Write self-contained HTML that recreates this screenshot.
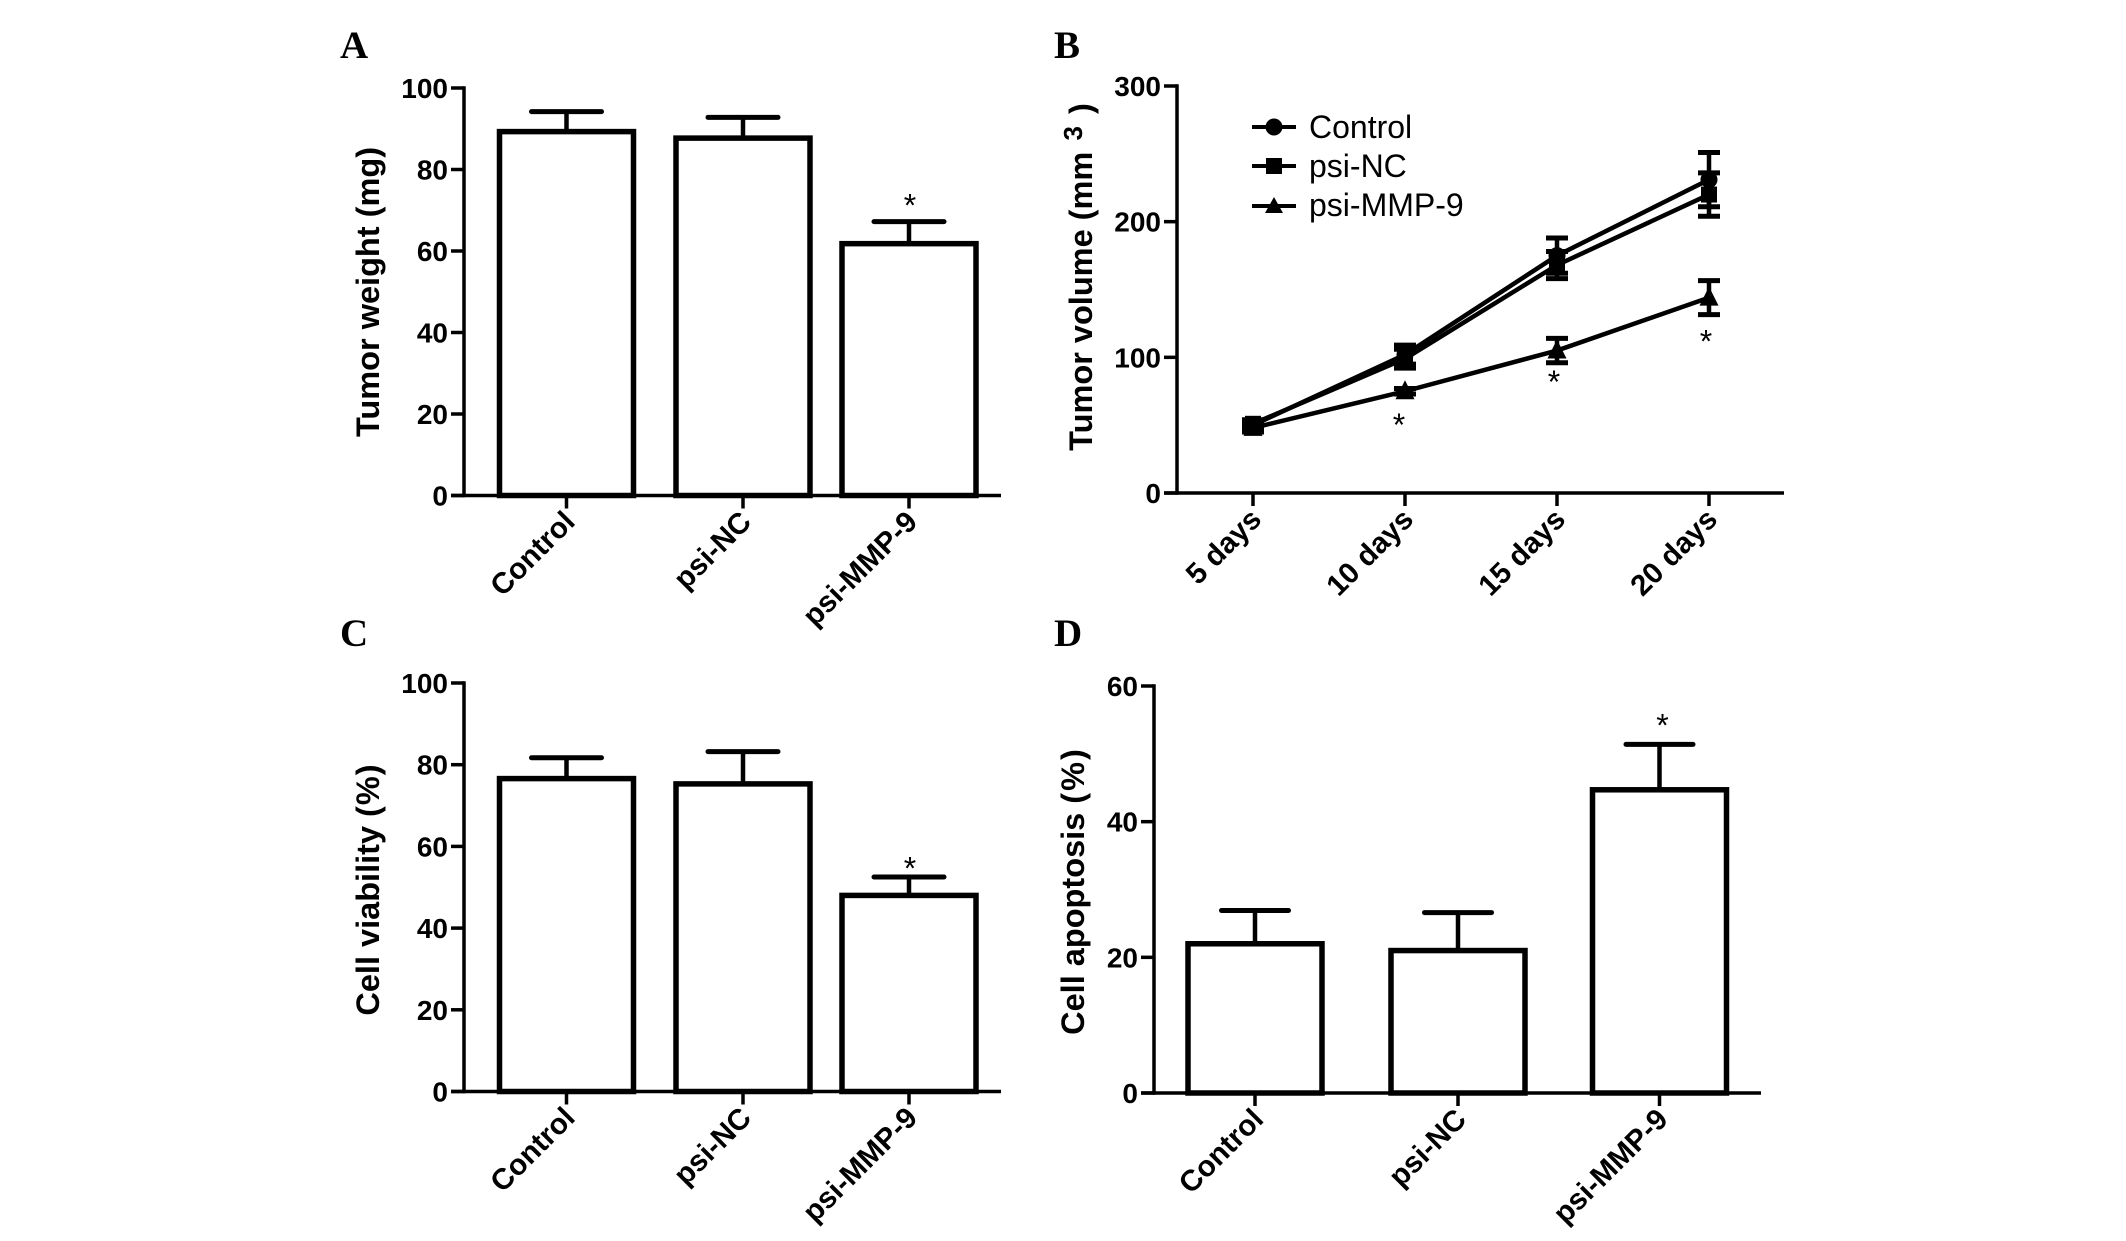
<!DOCTYPE html>
<html lang="en">
<head>
<meta charset="utf-8">
<title>Tumor and cell assays, four-panel figure</title>
<style>
html,body{margin:0;padding:0;background:#fff;}
svg{display:block;}
text{font-family:"Liberation Sans",sans-serif;fill:#000;}
.tick{font-weight:bold;font-size:28px;}
.xtick{font-weight:bold;font-size:29.5px;}
.title{font-weight:bold;font-size:32.5px;}
.letter{font-family:"Liberation Serif",serif;font-weight:bold;font-size:39px;}
.legend{font-size:32px;}
.star{font-size:32px;}
</style>
</head>
<body>
<svg id="figure" width="2126" height="1241" viewBox="0 0 2126 1241" xmlns="http://www.w3.org/2000/svg">
  <rect width="2126" height="1241" fill="#fff"/>
  <text class="letter" x="340" y="58">A</text>
  <text class="letter" x="1054" y="58">B</text>
  <text class="letter" x="340" y="646">C</text>
  <text class="letter" x="1054" y="646">D</text>
  <text class="title" text-anchor="middle" transform="translate(379,292) rotate(-90)">Tumor weight (mg)</text>
  <text class="title" text-anchor="middle" transform="translate(1092,277) rotate(-90)">Tumor volume (mm<tspan dy="-10" dx="4" font-size="26"> 3</tspan><tspan dy="10" dx="3"> )</tspan></text>
  <text class="title" text-anchor="middle" transform="translate(379,890) rotate(-90)">Cell viability (<tspan dx="1">%</tspan><tspan dx="1">)</tspan></text>
  <text class="title" text-anchor="middle" transform="translate(1084,892) rotate(-90)">Cell apoptosis (<tspan dx="2">%</tspan><tspan dx="2">)</tspan></text>
  <g>
    <line x1="1252" y1="127" x2="1296" y2="127" stroke="#000" stroke-width="4"/>
    <circle cx="1274" cy="127" r="8.5" fill="#000"/>
    <text class="legend" x="1309" y="138">Control</text>
    <line x1="1252" y1="166" x2="1296" y2="166" stroke="#000" stroke-width="4"/>
    <rect x="1266" y="158" width="16" height="16" fill="#000"/>
    <text class="legend" x="1309" y="177">psi-NC</text>
    <line x1="1252" y1="206" x2="1296" y2="206" stroke="#000" stroke-width="4"/>
    <polygon points="1274,197 1283,213 1265,213" fill="#000"/>
    <text class="legend" x="1309" y="216">psi-MMP-9</text>
  </g>
  <g id="plots"></g>
</svg>
<script>
// Panel A: tumor weight
const weightCategories = ['Control', 'psi-NC', 'psi-MMP-9'];
const weightValues = [89.3, 87.7, 61.8];
const weightErrors = [4.9, 5.1, 5.4];
const weightTicks = [0, 20, 40, 60, 80, 100];
const weightStars = [false, false, true];

// Panel B: tumor volume
const volumeCategories = ['5 days', '10 days', '15 days', '20 days'];
const volumeControl = [50, 102, 175, 231];
const volumeControlErr = [3, 7, 13, 20];
const volumeNC = [51, 99, 168, 220];
const volumeNCErr = [3, 7, 10, 16];
const volumeMMP = [48, 75, 105, 144];
const volumeMMPErr = [3, 2, 9, 12.5];
const volumeTicks = [0, 100, 200, 300];
const volumeStars = [false, true, true, true];

// Panel C: cell viability
const viabilityCategories = ['Control', 'psi-NC', 'psi-MMP-9'];
const viabilityValues = [76.6, 75.3, 48];
const viabilityErrors = [5.1, 7.9, 4.5];
const viabilityTicks = [0, 20, 40, 60, 80, 100];
const viabilityStars = [false, false, true];

// Panel D: cell apoptosis
const apoptosisCategories = ['Control', 'psi-NC', 'psi-MMP-9'];
const apoptosisValues = [22, 21, 44.7];
const apoptosisErrors = [4.9, 5.6, 6.7];
const apoptosisTicks = [0, 20, 40, 60];
const apoptosisStars = [false, false, true];

const NS = 'http://www.w3.org/2000/svg';
const plots = document.getElementById('plots');

function make(tag, attrs, parent, name) {
  const el = document.createElementNS(NS, tag);
  for (const k in attrs) el.setAttribute(k, attrs[k]);
  
  
  parent.appendChild(el);
  return el;
}

function line(parent, x1, y1, x2, y2, w, name, cap) {
  return make('line', {x1: x1, y1: y1, x2: x2, y2: y2, stroke: '#000', 'stroke-width': w, 'stroke-linecap': cap || 'butt'}, parent, name);
}

function drawAxes(g, f, ticks, max, cats, catX) {
  const yScale = v => f.y0 - (v / max) * (f.y0 - f.yTop);
  line(g, f.axisX, f.y0 + 1.75, f.axisX, f.yTop - 1.75, 3.5, 'y-axis-line');
  line(g, f.axisX - 13, f.y0, f.xEnd, f.y0, 3.5, 'x-axis-line');
  ticks.forEach(t => {
    const y = yScale(t);
    line(g, f.axisX - 13, y, f.axisX, y, 3.5, 'y-tick');
    const lbl = make('text', {class: 'tick', x: f.axisX - 16, y: y + 10, 'text-anchor': 'end'}, g, 'y-tick-label');
    lbl.textContent = t;
  });
  cats.forEach((c, i) => {
    const x = catX(i);
    line(g, x, f.y0, x, f.y0 + 13, 3.5, 'x-tick');
    const lbl = make('text', {class: 'xtick', 'text-anchor': 'end', transform: 'translate(' + (x + 10) + ',' + (f.y0 + 28) + ') rotate(-45)'}, g, 'x-tick-label');
    lbl.textContent = c;
  });
  return yScale;
}

function star(g, x, centerY) {
  const s = make('text', {class: 'star', x: x, y: centerY + 18, 'text-anchor': 'middle'}, g, 'significance-asterisk');
  s.textContent = '*';
}

function barPanel(name, f, cats, vals, errs, ticks, max, stars) {
  const g = make('g', {}, plots, name);
  const catX = i => f.left + f.step[i] + f.barW / 2;
  const yScale = drawAxes(g, f, ticks, max, cats, catX);
  vals.forEach((v, i) => {
    const cx = catX(i);
    const top = yScale(v + errs[i]);
    line(g, cx, yScale(v), cx, top, 4.5, 'error-stem');
    line(g, cx - f.cap / 2, top, cx + f.cap / 2, top, 5, 'error-cap', 'round');
    make('rect', {x: cx - f.barW / 2, y: yScale(v), width: f.barW, height: f.y0 - yScale(v), fill: '#fff', stroke: '#000', 'stroke-width': 5.5}, g, 'bar');
    if (stars[i]) star(g, cx + f.starDx, top - f.starGap);
  });
}

function linePanel(name, f, cats, series, ticks, max, stars) {
  const g = make('g', {}, plots, name);
  const catX = i => f.first + i * f.step;
  const yScale = drawAxes(g, f, ticks, max, cats, catX);
  series.slice().reverse().forEach(s => {
    const pts = s.values.map((v, i) => catX(i) + ',' + yScale(v)).join(' ');
    make('polyline', {points: pts, fill: 'none', stroke: '#000', 'stroke-width': 4.5}, g, 'series-line-' + s.key);
    s.values.forEach((v, i) => {
      const x = catX(i), y = yScale(v), up = yScale(v + s.errors[i]), dn = yScale(v - s.errors[i]);
      line(g, x, up, x, dn, 4.5, 'series-error-stem-' + s.key);
      line(g, x - 11, up, x + 11, up, 5, 'series-error-cap-' + s.key);
      line(g, x - 11, dn, x + 11, dn, 5, 'series-error-cap-' + s.key);
      if (s.key === 'control') {
        make('circle', {cx: x, cy: y, r: 8.5, fill: '#000'}, g, 'point-control');
      } else if (s.key === 'psi-nc') {
        make('rect', {x: x - 8, y: y - 8, width: 16, height: 16, fill: '#000'}, g, 'point-psi-nc');
      } else {
        make('polygon', {points: x + ',' + (y - 11) + ' ' + (x + 9.5) + ',' + (y + 8) + ' ' + (x - 9.5) + ',' + (y + 8), fill: '#000'}, g, 'point-psi-mmp-9');
      }
    });
  });
  const mmp = series[2];
  mmp.values.forEach((v, i) => {
    if (stars[i]) star(g, catX(i) - (i === 1 ? 6 : 3), yScale(v - mmp.errors[i]) + (i === 1 ? 24 : i === 2 ? 12 : 20));
  });
}

barPanel('panel-a-tumor-weight',
  {axisX: 464, yTop: 88, y0: 495.5, xEnd: 1001, left: 499.5, barW: 134, step: [0, 176.5, 342.5], cap: 70, starGap: 23, starDx: 1},
  weightCategories, weightValues, weightErrors, weightTicks, 100, weightStars);

linePanel('panel-b-tumor-volume',
  {axisX: 1177, yTop: 86, y0: 493, xEnd: 1784, first: 1253, step: 152},
  volumeCategories,
  [
    {key: 'control', values: volumeControl, errors: volumeControlErr},
    {key: 'psi-nc', values: volumeNC, errors: volumeNCErr},
    {key: 'psi-mmp-9', values: volumeMMP, errors: volumeMMPErr}
  ],
  volumeTicks, 300, volumeStars);

barPanel('panel-c-cell-viability',
  {axisX: 464, yTop: 683, y0: 1091.5, xEnd: 1001, left: 499.5, barW: 134, step: [0, 176.5, 342.5], cap: 70, starGap: 15.5, starDx: 1},
  viabilityCategories, viabilityValues, viabilityErrors, viabilityTicks, 100, viabilityStars);

barPanel('panel-d-cell-apoptosis',
  {axisX: 1154, yTop: 686, y0: 1093, xEnd: 1761, left: 1188, barW: 134, step: [0, 203, 404.5], cap: 67, starGap: 26, starDx: 3},
  apoptosisCategories, apoptosisValues, apoptosisErrors, apoptosisTicks, 60, apoptosisStars);
</script>
</body>
</html>
